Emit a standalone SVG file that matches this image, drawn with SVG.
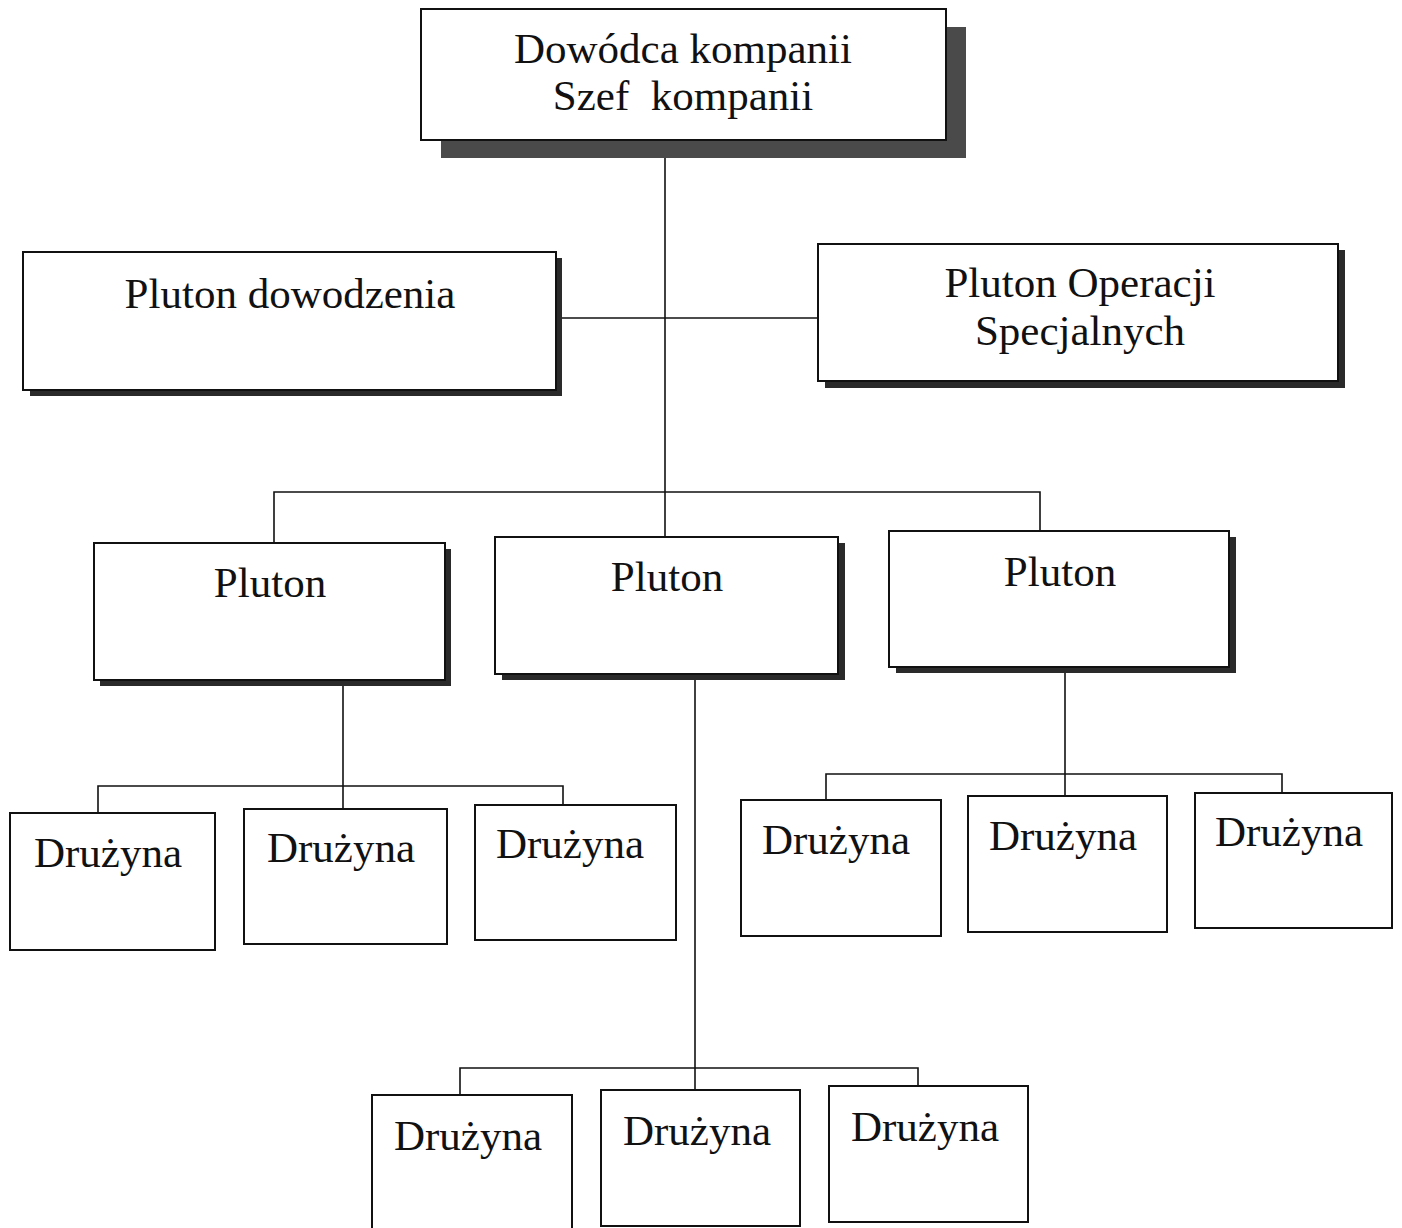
<svg xmlns="http://www.w3.org/2000/svg" width="1402" height="1228" viewBox="0 0 1402 1228">
<style>
.box{fill:#fff;stroke:#111;stroke-width:2}
.sh{fill:#2a2a2a}
.bigsh{fill:#4a4a4a}
.t{font-family:"Liberation Serif","Times New Roman",serif;font-size:43px;fill:#111;text-anchor:middle}
.c{fill:none;stroke:#111;stroke-width:1.6}
</style>
<rect width="1402" height="1228" fill="#fff"/>
<g id="connectors">
<path class="c" d="M665 140 V537"/>
<path class="c" d="M562 318 H818"/>
<path class="c" d="M274 543 V492 H1040 V531"/>
<path class="c" d="M343 686 V809"/>
<path class="c" d="M98 813 V786 H563 V805"/>
<path class="c" d="M695 680 V1090"/>
<path class="c" d="M460 1095 V1068 H918 V1086"/>
<path class="c" d="M1065 673 V796"/>
<path class="c" d="M826 800 V774 H1282 V793"/>
</g>
<g id="n-dowodca">
<rect class="bigsh" x="441" y="27" width="525" height="131"/>
<rect class="box" x="421" y="9" width="525" height="131"/>
<text class="t" x="683" y="63">Dowódca kompanii</text>
<text class="t" x="683" y="110">Szef&#160; kompanii</text>
</g>
<g id="n-pluton-dowodzenia">
<rect class="sh" x="30" y="258" width="532" height="138"/>
<rect class="box" x="23" y="252" width="533" height="138"/>
<text class="t" x="290" y="308">Pluton dowodzenia</text>
</g>
<g id="n-pluton-operacji">
<rect class="sh" x="825" y="250" width="520" height="138"/>
<rect class="box" x="818" y="244" width="520" height="137"/>
<text class="t" x="1080" y="297">Pluton Operacji</text>
<text class="t" x="1080" y="345">Specjalnych</text>
</g>
<g id="n-pluton-1">
<rect class="sh" x="100" y="549" width="351" height="137"/>
<rect class="box" x="94" y="543" width="351" height="137"/>
<text class="t" x="270" y="597">Pluton</text>
</g>
<g id="n-pluton-2">
<rect class="sh" x="502" y="543" width="343" height="137"/>
<rect class="box" x="495" y="537" width="343" height="137"/>
<text class="t" x="667" y="591">Pluton</text>
</g>
<g id="n-pluton-3">
<rect class="sh" x="896" y="537" width="340" height="136"/>
<rect class="box" x="889" y="531" width="340" height="136"/>
<text class="t" x="1060" y="586">Pluton</text>
</g>
<g id="n-druzyna-1"><rect class="box" x="10" y="813" width="205" height="137"/><text class="t" x="108" y="867">Drużyna</text></g>
<g id="n-druzyna-2"><rect class="box" x="244" y="809" width="203" height="135"/><text class="t" x="341" y="862">Drużyna</text></g>
<g id="n-druzyna-3"><rect class="box" x="475" y="805" width="201" height="135"/><text class="t" x="570" y="858">Drużyna</text></g>
<g id="n-druzyna-4"><rect class="box" x="741" y="800" width="200" height="136"/><text class="t" x="836" y="854">Drużyna</text></g>
<g id="n-druzyna-5"><rect class="box" x="968" y="796" width="199" height="136"/><text class="t" x="1063" y="850">Drużyna</text></g>
<g id="n-druzyna-6"><rect class="box" x="1195" y="793" width="197" height="135"/><text class="t" x="1289" y="846">Drużyna</text></g>
<g id="n-druzyna-7"><rect class="box" x="372" y="1095" width="200" height="140"/><text class="t" x="468" y="1150">Drużyna</text></g>
<g id="n-druzyna-8"><rect class="box" x="601" y="1090" width="199" height="136"/><text class="t" x="697" y="1145">Drużyna</text></g>
<g id="n-druzyna-9"><rect class="box" x="829" y="1086" width="199" height="136"/><text class="t" x="925" y="1141">Drużyna</text></g>
</svg>
